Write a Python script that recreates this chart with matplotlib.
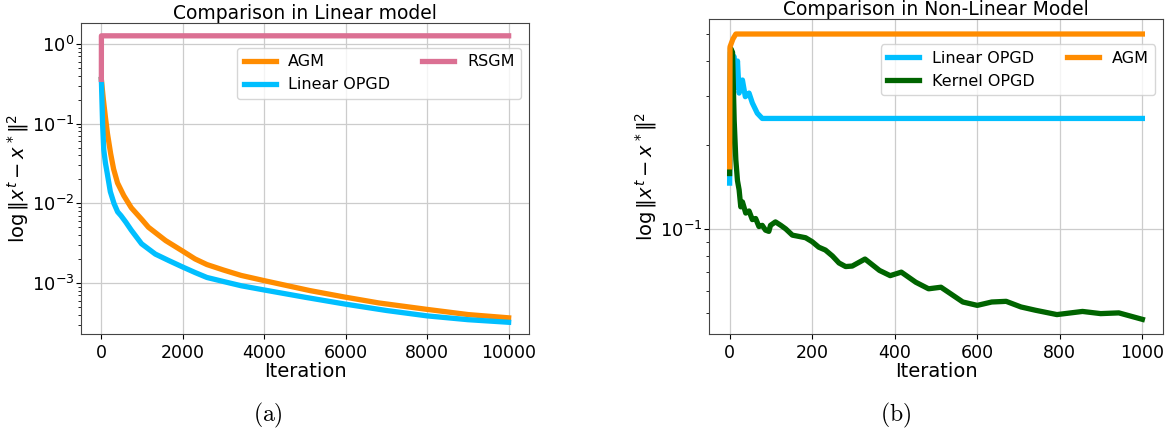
import numpy as np
import matplotlib
matplotlib.use('Agg')
import matplotlib.pyplot as plt

# ---- (a) linear model ----
agm_a_x = [0, 50, 100, 150, 228, 300, 397, 550, 734, 1000, 1156, 1578, 2000, 2300, 2591,
           3000, 3435, 4025, 5122, 5966, 6810, 7992, 9004, 10000]
agm_a_y = [0.36, 0.2, 0.12, 0.075, 0.042, 0.027, 0.018, 0.0125, 0.0088, 0.0062, 0.005,
           0.0034, 0.0025, 0.002, 0.0017, 0.00145, 0.00124, 0.00106, 8e-4, 6.65e-4,
           5.6e-4, 4.65e-4, 4.0e-4, 3.64e-4]
lin_a_x = [0, 30, 59, 100, 143, 220, 312, 400, 481, 600, 734, 987, 1325, 1662, 2000,
           2300, 2591, 3000, 3435, 4025, 5000, 6000, 7000, 8000, 9000, 10000]
lin_a_y = [0.36, 0.1, 0.047, 0.032, 0.024, 0.014, 0.0099, 0.0078, 0.007, 0.0058, 0.0046,
           0.0031, 0.0023, 0.0019, 0.00158, 0.00135, 0.00117, 0.00104, 9.2e-4, 8.1e-4,
           6.6e-4, 5.4e-4, 4.5e-4, 3.85e-4, 3.45e-4, 3.2e-4]
rsgm_a_x = [0, 1, 10000]
rsgm_a_y = [0.36, 1.27, 1.27]

# ---- (b) non-linear model ----
lin_b_x = [0, 2, 11, 15, 19, 23, 31, 38, 47, 55, 67, 79, 1000]
lin_b_y = [0.146, 0.43, 0.414, 0.323, 0.40, 0.307, 0.342, 0.298, 0.307, 0.283, 0.26,
           0.249, 0.249]
ker_b_x = [0, 2, 7, 11, 15, 19, 23, 27, 31, 39, 47, 55, 63, 71, 79, 87, 95, 99, 111,
           124, 136, 152, 168, 184, 200, 216, 232, 249, 265, 281, 297, 328, 363, 389,
           416, 451, 482, 512, 530, 565, 600, 635, 670, 706, 741, 793, 855, 899, 943, 1000]
ker_b_y = [0.158, 0.446, 0.43, 0.245, 0.177, 0.149, 0.138, 0.12, 0.125, 0.114, 0.116,
           0.108, 0.109, 0.102, 0.103, 0.099, 0.098, 0.103, 0.106, 0.103, 0.1, 0.095,
           0.094, 0.093, 0.09, 0.086, 0.084, 0.08, 0.0755, 0.0733, 0.0736, 0.078, 0.071,
           0.068, 0.07, 0.0644, 0.061, 0.0618, 0.0593, 0.0547, 0.0532, 0.0547, 0.055,
           0.0525, 0.0511, 0.0493, 0.0506, 0.0497, 0.05, 0.0474]
agm_b_x = [0, 1, 8, 15, 1000]
agm_b_y = [0.167, 0.45, 0.48, 0.50, 0.50]

plt.rcParams['font.family'] = 'DejaVu Sans'
plt.rcParams['mathtext.fontset'] = 'dejavusans'

W, H = 1169, 433
fig = plt.figure(figsize=(W/100, H/100), dpi=100)
ax1 = fig.add_axes([81/W, 1-334/H, (529-81)/W, (334-23)/H])
ax2 = fig.add_axes([709/W, 1-334/H, (1163-709)/W, (334-19)/H])

lw = 3.8
ax1.plot(agm_a_x, agm_a_y, color='darkorange', lw=lw, label='AGM')
ax1.plot(lin_a_x, lin_a_y, color='deepskyblue', lw=lw, label='Linear OPGD')
ax1.plot(rsgm_a_x, rsgm_a_y, color='palevioletred', lw=lw, label='RSGM')
ax1.set_title('Comparison in Linear model', fontsize=13.5, pad=2)
ax1.set_ylim(2.28e-4, 1.84)

ax2.plot(lin_b_x, lin_b_y, color='deepskyblue', lw=lw, label='Linear OPGD')
ax2.plot(ker_b_x, ker_b_y, color='darkgreen', lw=lw, label='Kernel OPGD')
ax2.plot(agm_b_x, agm_b_y, color='darkorange', lw=lw, label='AGM')
ax2.set_title('Comparison in Non-Linear Model', fontsize=13.5, pad=1)
ax2.set_ylim(0.042, 0.566)

for ax in (ax1, ax2):
    ax.set_yscale('log')
    ax.set_xlabel('Iteration', fontsize=14, labelpad=0)
    ax.set_ylabel(r'$\log\|x^t - x^*\|^2$', fontsize=14, labelpad=1)
    ax.tick_params(axis='x', labelsize=12.5)
    ax.tick_params(axis='y', labelsize=13, pad=1, length=3.5)
    ax.tick_params(axis='y', which='minor', length=2)
    ax.grid(True, color='#cccccc', lw=0.9)
    for s in ax.spines.values():
        s.set_color('#444444')
    ax.legend(ncol=2, fontsize=11.5, loc='upper right', bbox_to_anchor=(1, 0.945),
              handlelength=2.0, framealpha=0.8)

fig.text(268/W, 1-415/H, r'$\mathrm{(a)}$', fontsize=17, ha='center', va='center',
         math_fontfamily='cm')
fig.text(896/W, 1-415/H, r'$\mathrm{(b)}$', fontsize=17, ha='center', va='center',
         math_fontfamily='cm')

fig.savefig('out.png', dpi=100)
